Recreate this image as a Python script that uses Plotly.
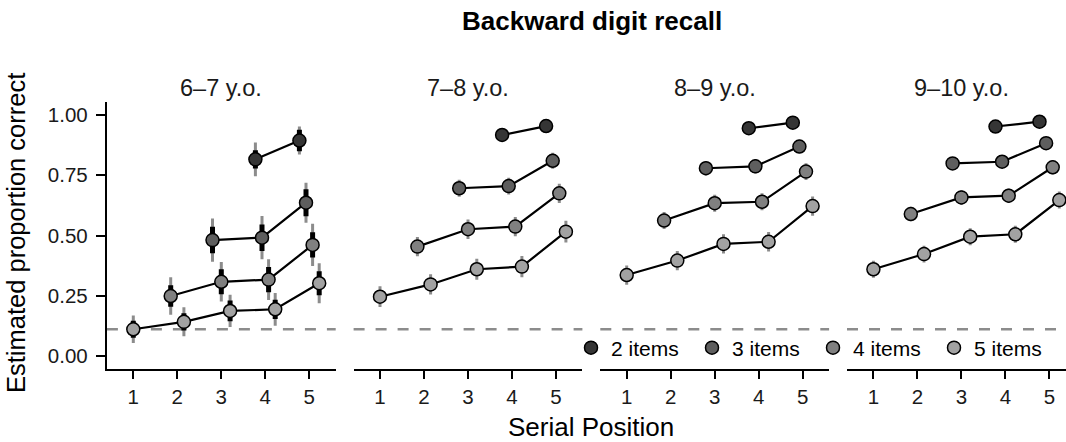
import plotly.graph_objects as go

# ---- data -----------------------------------------------------------------
serial_positions = [1, 2, 3, 4, 5]
age_groups = ["6–7 y.o.", "7–8 y.o.", "8–9 y.o.", "9–10 y.o."]
list_lengths = ["2 items", "3 items", "4 items", "5 items"]
length_sizes = [2, 3, 4, 5]
y_ticks = [0.0, 0.25, 0.50, 0.75, 1.00]
y_tick_labels = ["0.00", "0.25", "0.50", "0.75", "1.00"]
chance_level = 0.111

# Estimated proportion correct; a list of length N covers the last N serial positions
mean_6_7 = [[0.816, 0.894],
            [0.481, 0.491, 0.636],
            [0.249, 0.308, 0.317, 0.461],
            [0.111, 0.142, 0.187, 0.194, 0.302]]
mean_7_8 = [[0.917, 0.954],
            [0.696, 0.705, 0.810],
            [0.454, 0.526, 0.537, 0.675],
            [0.246, 0.297, 0.360, 0.371, 0.516]]
mean_8_9 = [[0.945, 0.968],
            [0.779, 0.787, 0.869],
            [0.562, 0.634, 0.640, 0.765],
            [0.336, 0.396, 0.465, 0.474, 0.622]]
mean_9_10 = [[0.952, 0.972],
             [0.799, 0.806, 0.883],
             [0.589, 0.658, 0.665, 0.783],
             [0.360, 0.423, 0.495, 0.505, 0.647]]

# Half-widths of the wide (outer) credible intervals
outer_6_7 = [[0.070, 0.058],
             [0.090, 0.090, 0.083],
             [0.078, 0.082, 0.085, 0.088],
             [0.057, 0.060, 0.067, 0.068, 0.083]]
outer_7_8 = [[0.020, 0.018],
             [0.035, 0.035, 0.033],
             [0.040, 0.040, 0.040, 0.040],
             [0.043, 0.042, 0.044, 0.044, 0.045]]
outer_8_9 = [[0.015, 0.014],
             [0.030, 0.030, 0.028],
             [0.035, 0.035, 0.035, 0.035],
             [0.040, 0.040, 0.040, 0.040, 0.040]]
outer_9_10 = [[0.015, 0.013],
              [0.025, 0.025, 0.024],
              [0.030, 0.030, 0.030, 0.030],
              [0.035, 0.035, 0.035, 0.035, 0.035]]

# Half-widths of the narrow (inner) credible intervals
inner_6_7 = [[0.038, 0.045],
             [0.055, 0.055, 0.056],
             [0.045, 0.052, 0.052, 0.052],
             [0.035, 0.036, 0.043, 0.040, 0.050]]
inner_7_8 = [[0.011, 0.010],
             [0.020, 0.020, 0.019],
             [0.023, 0.023, 0.023, 0.023],
             [0.025, 0.024, 0.025, 0.025, 0.026]]
inner_8_9 = [[0.009, 0.008],
             [0.017, 0.017, 0.016],
             [0.020, 0.020, 0.020, 0.020],
             [0.023, 0.023, 0.023, 0.023, 0.023]]
inner_9_10 = [[0.009, 0.008],
              [0.014, 0.014, 0.014],
              [0.017, 0.017, 0.017, 0.017],
              [0.020, 0.020, 0.020, 0.020, 0.020]]

panel_means = [mean_6_7, mean_7_8, mean_8_9, mean_9_10]
panel_outer = [outer_6_7, outer_7_8, outer_8_9, outer_9_10]
panel_inner = [inner_6_7, inner_7_8, inner_8_9, inner_9_10]

fill_colors = ["#353535", "#5e5e5e", "#808080", "#a2a2a2"]
interval_grey = "#8c8c8c"
FONT = "Liberation Sans, Arial, Helvetica, sans-serif"

# ---- geometry (pixels) ----------------------------------------------------
W, H = 1066, 442
PX_PER_UNIT = 44.0
X_LO = 0.4
panel_left = [106.9 + 246.7 * k for k in range(4)]
panel_w = 5.2 * PX_PER_UNIT
y_top_px, y_bot_px = 101.7, 369.3
DODGE = 0.6


def fx(px):
    return px / W


def fy(px):
    return 1 - px / H


def positions_for(size):
    return serial_positions[len(serial_positions) - size:]


def dodged_x(size):
    """Shift each list length sideways within its serial position."""
    out = []
    for p in positions_for(size):
        present = [s for s in length_sizes if p in positions_for(s)]
        n = len(present)
        i = present.index(size)
        out.append(p + (i - (n - 1) / 2) * DODGE / n)
    return out


fig = go.Figure()
layout_axes = {}

for k, age in enumerate(age_groups):
    ax = "" if k == 0 else str(k + 1)
    xref, yref = "x" + ax, "y" + ax
    left = panel_left[k]
    right = min(left + panel_w, W)
    x_hi = X_LO + (right - left) / PX_PER_UNIT

    layout_axes["xaxis" + ax] = dict(
        domain=[fx(left), fx(right)], range=[X_LO, x_hi], anchor=yref,
        tickvals=serial_positions, ticktext=[str(p) for p in serial_positions],
        showline=True, linecolor="black", linewidth=2.2,
        ticks="outside", ticklen=8, tickwidth=2, tickcolor="black",
        tickfont=dict(size=20.5, color="#1a1a1a", family=FONT),
        ticklabelstandoff=0,
        showgrid=False, zeroline=False, fixedrange=True,
    )
    yax = dict(
        domain=[fy(y_bot_px), fy(y_top_px)], range=[-0.055, 1.055], anchor=xref,
        showgrid=False, zeroline=False, fixedrange=True,
    )
    if k == 0:
        yax.update(
            tickvals=y_ticks, ticktext=y_tick_labels,
            showline=True, linecolor="black", linewidth=2.2,
            ticks="outside", ticklen=9, tickwidth=2, tickcolor="black",
            tickfont=dict(size=20.5, color="#1a1a1a", family=FONT),
            ticklabelstandoff=4,
        )
    else:
        yax.update(visible=False)
    layout_axes["yaxis" + ax] = yax

    # chance-level reference line
    fig.add_shape(type="line", xref=xref + " domain", yref=yref,
                  x0=0, x1=1, y0=chance_level, y1=chance_level,
                  line=dict(color=interval_grey, width=2.5, dash="11px,11px"),
                  layer="below")

    means = panel_means[k]
    outers = panel_outer[k]
    inners = panel_inner[k]

    # wide intervals
    for j, size in enumerate(length_sizes):
        fig.add_trace(go.Scatter(
            x=dodged_x(size), y=means[j], mode="markers", xaxis=xref, yaxis=yref,
            marker=dict(size=1, color="rgba(0,0,0,0)"),
            error_y=dict(type="data", array=outers[j], symmetric=True,
                         color=interval_grey, thickness=3, width=0),
            showlegend=False, hoverinfo="skip"))
    # narrow intervals
    for j, size in enumerate(length_sizes):
        fig.add_trace(go.Scatter(
            x=dodged_x(size), y=means[j], mode="markers", xaxis=xref, yaxis=yref,
            marker=dict(size=1, color="rgba(0,0,0,0)"),
            error_y=dict(type="data", array=inners[j], symmetric=True,
                         color="black", thickness=5, width=0),
            showlegend=False, hoverinfo="skip"))
    # connecting lines
    for j, size in enumerate(length_sizes):
        fig.add_trace(go.Scatter(
            x=dodged_x(size), y=means[j], mode="lines", xaxis=xref, yaxis=yref,
            line=dict(color="black", width=2.2),
            showlegend=False, hoverinfo="skip"))
    # points
    for j, size in enumerate(length_sizes):
        fig.add_trace(go.Scatter(
            x=dodged_x(size), y=means[j], mode="markers", xaxis=xref, yaxis=yref,
            name=list_lengths[j], legendgroup=list_lengths[j],
            showlegend=(k == 0),
            marker=dict(size=13, color=fill_colors[j],
                        line=dict(color="black", width=1.5))))

# ---- text -----------------------------------------------------------------
annotations = [
    dict(text="<b>Backward digit recall</b>", x=fx(592), y=fy(21),
         font=dict(size=26, color="black", family=FONT)),
    dict(text="Serial Position", x=fx(591), y=fy(427),
         font=dict(size=26, color="black", family=FONT)),
    dict(text="Estimated proportion correct", x=fx(16), y=fy(233),
         textangle=-90, font=dict(size=25.5, color="black", family=FONT)),
]
for k, age in enumerate(age_groups):
    annotations.append(dict(text=age, x=fx(panel_left[k] + panel_w / 2), y=fy(88),
                            font=dict(size=23.5, color="#1a1a1a", family=FONT)))
for a in annotations:
    a.update(xref="paper", yref="paper", showarrow=False,
             xanchor="center", yanchor="middle")

fig.update_layout(
    width=W, height=H,
    margin=dict(l=0, r=0, t=0, b=0),
    paper_bgcolor="white", plot_bgcolor="white",
    font=dict(family=FONT, color="black"),
    annotations=annotations,
    showlegend=True,
    legend=dict(orientation="h", x=fx(571), y=fy(348),
                xanchor="left", yanchor="middle",
                entrywidth=76, entrywidthmode="pixels",
                bgcolor="rgba(0,0,0,0)", traceorder="normal",
                font=dict(size=21, color="black", family=FONT),
                itemclick=False, itemdoubleclick=False),
    **layout_axes,
)

fig.write_html("out.html")
